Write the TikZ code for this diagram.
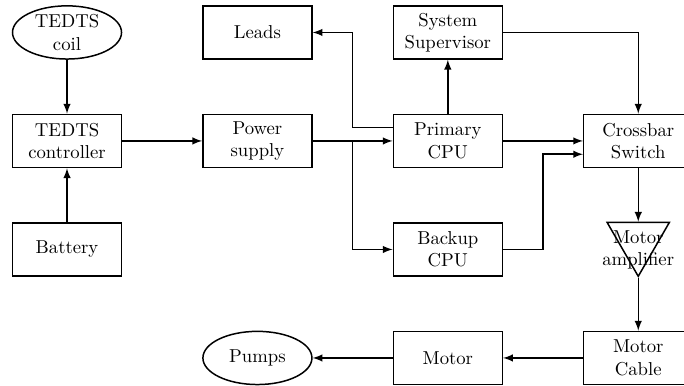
\documentclass[tikz,border=0pt]{standalone}
\usepackage{tikz}
\usetikzlibrary{shapes.geometric, calc}

\begin{document}
\begin{tikzpicture}[
    box/.style={draw, thick, minimum width=2.05cm, minimum height=1cm, align=center},
    oval/.style={draw, thick, ellipse, minimum width=2.05cm, minimum height=1cm, inner sep=0pt, align=center},
    tri/.style={draw, thick, regular polygon, regular polygon sides=3, shape border rotate=180,
                minimum size=1.35cm, inner sep=0pt},
    link/.style={thick, -latex}]
    \useasboundingbox (-1.26,-4.59) rectangle (11.6,2.65);

    %% left column
    \node[oval] (coil) at (0,2.04) {TEDTS\\coil};
    \node[box] (ctrl) at (0,0) {TEDTS\\controller};
    \node[box] (battery) at (0,-2.04) {Battery};

    %% second column
    \node[box] (leads) at (3.58,2.04) {Leads};
    \node[box] (power) at (3.58,0) {Power\\supply};
    \node[oval] (pumps) at (3.58,-4.08) {Pumps};

    %% CPUs
    \node[box] (super) at (7.16,2.04) {System\\Supervisor};
    \node[box] (primary) at (7.16,0) {Primary\\CPU};
    \node[box] (backup) at (7.16,-2.04) {Backup\\CPU};
    \node[box] (motor) at (7.16,-4.08) {Motor};

    %% switch and motor drive
    \node[box] (xbar) at (10.74,0) {Crossbar\\Switch};
    \node[tri] (amp) at (10.74,-1.87) {};
    \node[align=center] (amplabel) at (10.74,-2.05) {Motor\\amplifier};
    \node[box] (cable) at (10.74,-4.08) {Motor\\Cable};

    %% connections
    \draw[link] (coil) -- (ctrl);
    \draw[link] (battery) -- (ctrl);
    \draw[link] (ctrl) -- (power);
    \draw[link] (power) -- (primary);
    \coordinate (split) at ($(power.east)!0.5!(primary.west)$);
    \draw[link] (power.east) -- (split) |- (backup.west);
    \draw[link] ([yshift=0.25cm]primary.west) -- ++(-0.75,0) |- (leads.east);
    \draw[link] (primary) -- (super);
    \draw[link] (super.east) -| (xbar.north);
    \draw[link] (primary) -- (xbar);
    \draw[link] (backup.east) -- ++(0.75,0) |- ([yshift=-0.25cm]xbar.west);
    \draw[link] (xbar.south) -- (amp.north);
    \draw[link] (amp.south) -- (cable.north);
    \draw[link] (cable) -- (motor);
    \draw[link] (motor) -- (pumps);
\end{tikzpicture}
\end{document}
